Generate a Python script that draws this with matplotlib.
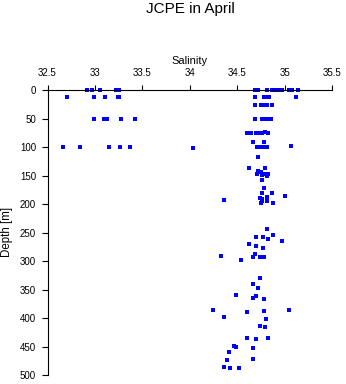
import matplotlib
matplotlib.use("Agg")
import matplotlib.pyplot as plt

plt.rcParams['font.family'] = ['Liberation Sans', 'DejaVu Sans']

salinity = [
    # surface (~0 m)
    32.913, 32.972, 33.056, 33.222, 33.257,
    34.687, 34.715, 34.810, 34.862, 34.873, 34.922, 34.943, 34.968, 35.048, 35.073, 35.143,
    # ~11 m
    32.709, 32.993, 33.109, 33.243, 33.257,
    34.690, 34.781, 34.810, 34.834, 35.122,
    # ~25 m
    34.690, 34.747, 34.781, 34.816, 34.869,
    # ~51 m
    32.993, 33.095, 33.113, 33.130, 33.278, 33.419,
    34.690, 34.757, 34.789, 34.816, 34.852,
    # ~75 m
    34.599, 34.648, 34.700, 34.729, 34.757, 34.789, 34.827,
    # ~91-100 m
    34.669, 34.781, 35.069,
    32.660, 32.839, 33.151, 33.267, 33.372, 34.036,
    34.704, 34.732, 34.760, 34.787, 34.816,
    # 117-200 m
    34.721, 34.792, 34.626, 34.721, 34.750, 34.704,
    34.757, 34.792, 34.827, 34.810, 34.757, 34.781, 34.757, 34.869, 35.006,
    34.739, 34.763, 34.810, 34.363, 34.760, 34.810, 34.750, 34.873,
    # 244-300 m
    34.810, 34.879, 34.700, 34.774, 34.827, 34.968, 34.626, 34.700, 34.774,
    34.331, 34.542, 34.690, 34.669, 34.742, 34.784,
    # 329-500 m
    34.742, 34.669, 34.721, 34.489, 34.700, 34.669, 34.784,
    34.247, 34.363, 34.605, 34.784, 35.048, 34.806, 34.739, 34.792,
    34.599, 34.700, 34.827, 34.468, 34.489, 34.669, 34.416, 34.669,
    34.395, 34.360, 34.426, 34.521,
]

depth = [
    0, 0, 0, 0, 0,
    0, 0, 0, 0, 0, 0, 0, 0, 0, 0, 0,
    11, 11, 11, 11, 11,
    11, 11, 11, 11, 11,
    25, 25, 25, 25, 25,
    51, 51, 51, 51, 51, 51,
    51, 51, 51, 51, 51,
    75, 75, 75, 75, 75, 74, 75,
    91, 91, 97,
    100, 100, 100, 100, 100, 101,
    99, 99, 99, 99, 99,
    117, 136, 136, 141, 144, 146,
    148, 147, 147, 151, 158, 171, 180, 181, 186,
    189, 190, 188, 192, 194, 194, 197, 197,
    244, 253, 258, 257, 260, 264, 270, 274, 276,
    290, 297, 288, 292, 292, 292,
    329, 339, 346, 359, 360, 364, 367,
    386, 397, 389, 387, 385, 402, 413, 415,
    434, 437, 434, 449, 451, 452, 459, 471,
    473, 486, 488, 488,
]

xticks = [32.5, 33, 33.5, 34, 34.5, 35, 35.5]
xticklabels = ['32.5', '33', '33.5', '34', '34.5', '35', '35.5']
yticks = [0, 50, 100, 150, 200, 250, 300, 350, 400, 450, 500]

fig = plt.figure(figsize=(3.46, 3.84), dpi=100)
ax = fig.add_axes([47.5/346, 1-375.3/384, (332.3-47.5)/346, (375.3-90.3)/384])

ax.plot(salinity, depth, linestyle='none', marker='s', markersize=2.3,
        markeredgewidth=0, color='#0000ff', clip_on=False)

ax.set_xlim(32.5, 35.5)
ax.set_ylim(500, 0)
ax.xaxis.tick_top()
ax.xaxis.set_label_position('top')
ax.set_xticks(xticks)
ax.set_xticklabels(xticklabels)
ax.set_yticks(yticks)
for s in ['right', 'bottom']:
    ax.spines[s].set_visible(False)
for s in ['top', 'left']:
    ax.spines[s].set_linewidth(0.8)
    ax.spines[s].set_color('black')
ax.tick_params(axis='x', direction='out', length=3.6, width=0.8, pad=5, labelsize=7)
ax.tick_params(axis='y', direction='out', length=4.3, width=0.8, pad=4, labelsize=7)
ax.set_xlabel('Salinity', fontsize=8, labelpad=3)

fig.text(190/346, 1-13.5/384, 'JCPE in April', ha='center', va='baseline', fontsize=11)
fig.text(7/346, 1-232/384, 'Depth [m]', ha='center', va='center', rotation=90, fontsize=8.3)

fig.savefig('out.png', dpi=100)
